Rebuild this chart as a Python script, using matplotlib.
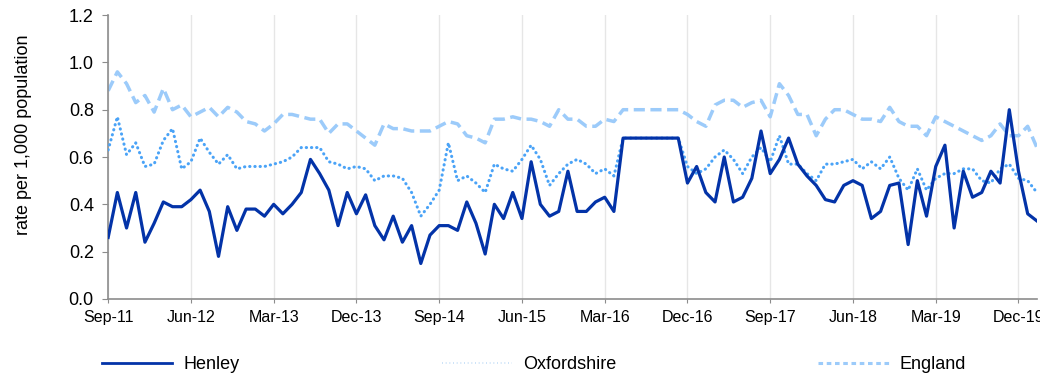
import numpy as np
import matplotlib
matplotlib.use("Agg")
import matplotlib.pyplot as plt
from matplotlib.lines import Line2D

plt.rcParams['font.family'] = ['Liberation Sans', 'DejaVu Sans']

# monthly rates, Sep-11 .. Feb-20
henley = [
    0.26, 0.45, 0.30, 0.45, 0.24, 0.32, 0.41, 0.39, 0.39, 0.42,
    0.46, 0.37, 0.18, 0.39, 0.29, 0.38, 0.38, 0.35, 0.40, 0.36,
    0.40, 0.45, 0.59, 0.53, 0.46, 0.31, 0.45, 0.36, 0.44, 0.31,
    0.25, 0.35, 0.24, 0.31, 0.15, 0.27, 0.31, 0.31, 0.29, 0.41,
    0.32, 0.19, 0.40, 0.34, 0.45, 0.34, 0.58, 0.40, 0.35, 0.37,
    0.54, 0.37, 0.37, 0.41, 0.43, 0.37, 0.68, 0.68, 0.68, 0.68,
    0.68, 0.68, 0.68, 0.49, 0.56, 0.45, 0.41, 0.60, 0.41, 0.43,
    0.51, 0.71, 0.53, 0.59, 0.68, 0.57, 0.52, 0.48, 0.42, 0.41,
    0.48, 0.50, 0.48, 0.34, 0.37, 0.48, 0.49, 0.23, 0.50, 0.35,
    0.56, 0.65, 0.30, 0.54, 0.43, 0.45, 0.54, 0.49, 0.80, 0.54,
    0.36, 0.33,
]
oxfordshire = [
    0.63, 0.77, 0.61, 0.66, 0.56, 0.57, 0.67, 0.72, 0.55, 0.58,
    0.68, 0.62, 0.57, 0.61, 0.55, 0.56, 0.56, 0.56, 0.57, 0.58,
    0.60, 0.64, 0.64, 0.64, 0.58, 0.57, 0.55, 0.56, 0.55, 0.50,
    0.52, 0.52, 0.51, 0.45, 0.35, 0.40, 0.46, 0.66, 0.50, 0.52,
    0.49, 0.45, 0.57, 0.55, 0.54, 0.59, 0.65, 0.59, 0.48, 0.53,
    0.57, 0.59, 0.57, 0.53, 0.55, 0.52, 0.68, 0.68, 0.68, 0.68,
    0.68, 0.68, 0.68, 0.56, 0.53, 0.55, 0.60, 0.63, 0.59, 0.53,
    0.60, 0.64, 0.58, 0.69, 0.57, 0.57, 0.53, 0.50, 0.57, 0.57,
    0.58, 0.59, 0.55, 0.58, 0.55, 0.60, 0.51, 0.46, 0.55, 0.46,
    0.51, 0.53, 0.53, 0.55, 0.55, 0.50, 0.49, 0.55, 0.57, 0.51,
    0.50, 0.45,
]
england = [
    0.88, 0.96, 0.91, 0.83, 0.86, 0.79, 0.89, 0.80, 0.82, 0.77,
    0.79, 0.81, 0.77, 0.81, 0.79, 0.75, 0.74, 0.71, 0.74, 0.78,
    0.78, 0.77, 0.76, 0.76, 0.70, 0.74, 0.74, 0.71, 0.68, 0.65,
    0.74, 0.72, 0.72, 0.71, 0.71, 0.71, 0.73, 0.75, 0.74, 0.69,
    0.68, 0.66, 0.76, 0.76, 0.77, 0.76, 0.76, 0.75, 0.73, 0.80,
    0.76, 0.76, 0.73, 0.73, 0.76, 0.75, 0.80, 0.80, 0.80, 0.80,
    0.80, 0.80, 0.80, 0.78, 0.75, 0.73, 0.82, 0.84, 0.84, 0.81,
    0.83, 0.84, 0.77, 0.91, 0.86, 0.78, 0.78, 0.69, 0.76, 0.80,
    0.80, 0.78, 0.76, 0.76, 0.75, 0.81, 0.75, 0.73, 0.73, 0.69,
    0.77, 0.75, 0.73, 0.71, 0.69, 0.67, 0.69, 0.74, 0.69, 0.69,
    0.73, 0.64,
]
tick_labels = ['Sep-11', 'Jun-12', 'Mar-13', 'Dec-13', 'Sep-14', 'Jun-15',
               'Mar-16', 'Dec-16', 'Sep-17', 'Jun-18', 'Mar-19', 'Dec-19']

c_henley = '#0333a8'
c_oxon = '#4aa3f7'
c_eng = '#9ccbfa'

x = np.arange(len(henley))

fig = plt.figure(figsize=(10.4, 3.77), dpi=100)
ax = fig.add_axes([0.104, 0.207, 0.893, 0.753])

ax.plot(x, england, color=c_eng, lw=2.5, dashes=(3.2, 1.6), zorder=2)
ax.plot(x, oxfordshire, color=c_oxon, lw=2.2, dashes=(0.1, 1.6),
        dash_capstyle='round', zorder=3)
ax.plot(x, henley, color=c_henley, lw=2.3, zorder=4)

ax.set_xlim(0, len(henley) - 1)
ax.set_ylim(0, 1.2)
ax.set_xticks(np.arange(0, len(henley), 9))
ax.set_xticklabels(tick_labels, fontsize=11.5)
ax.set_yticks(np.arange(0, 1.21, 0.2))
ax.set_yticklabels(['%.1f' % v for v in np.arange(0, 1.21, 0.2)], fontsize=13)
ax.set_ylabel('rate per 1,000 population', fontsize=13)
ax.yaxis.set_label_coords(-0.082, 0.577)

ax.grid(axis='x', color='#e6e6e6', lw=1)
ax.set_axisbelow(True)
for s in ['top', 'right']:
    ax.spines[s].set_visible(False)
for s in ['left', 'bottom']:
    ax.spines[s].set_color('#8c8c8c')
    ax.spines[s].set_linewidth(1.2)
ax.tick_params(axis='y', length=4.3, color='#8c8c8c', pad=6)
ax.tick_params(axis='x', length=3, color='#8c8c8c', pad=5)

handles = [
    Line2D([], [], color=c_henley, lw=2),
    Line2D([], [], color='#c4def7', lw=1.2, dashes=(0.6, 1.6)),
    Line2D([], [], color=c_eng, lw=2.2, dashes=(1.5, 1.2)),
]
fig.legend(handles, ['Henley', 'Oxfordshire', 'England'], ncol=3,
           loc='center left', bbox_to_anchor=(0.098, 0.032), frameon=False,
           borderpad=0, borderaxespad=0,
           fontsize=13, handlelength=3.9, handletextpad=0.6,
           columnspacing=11.2)

fig.savefig('out.png', dpi=100)
